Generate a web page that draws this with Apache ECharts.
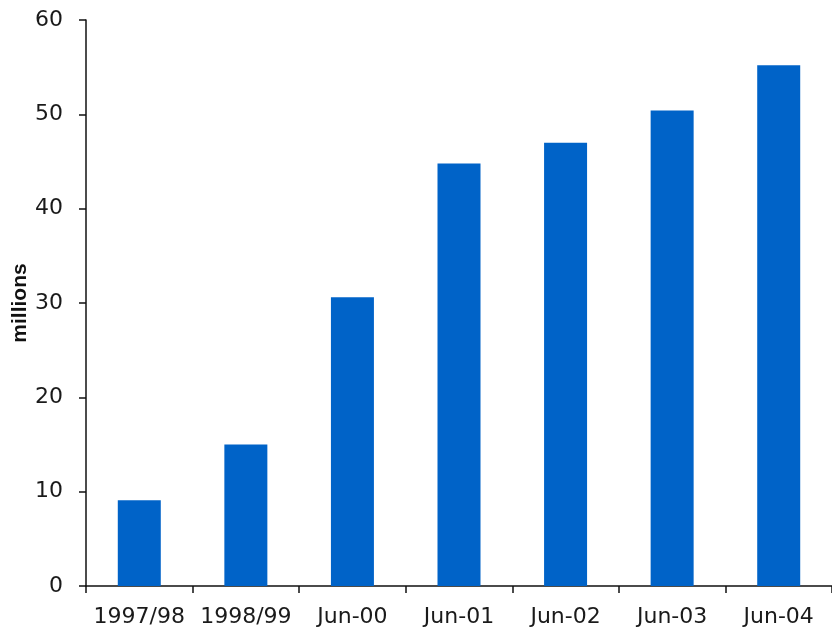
<!DOCTYPE html>
<html>
<head>
<meta charset="utf-8">
<script src="https://cdn.jsdelivr.net/npm/echarts@6/dist/echarts.min.js"></script>
<style>
  html, body { margin: 0; padding: 0; background: #fff; }
  #chart { width: 832px; height: 631px; }
</style>
</head>
<body>
<div id="chart"></div>
<script>
// Period labels along the horizontal axis
const periods = ['1997/98', '1998/99', 'Jun-00', 'Jun-01', 'Jun-02', 'Jun-03', 'Jun-04'];
// Totals in millions for each period
const totals = [9.1, 15.0, 30.6, 44.8, 47.0, 50.4, 55.2];
// Value axis range and step
const yMin = 0;
const yMax = 60;
const yStep = 10;

const chart = echarts.init(document.getElementById('chart'), null, { renderer: 'canvas' });

const axisText = { color: '#1a1a1a', fontFamily: 'DejaVu Sans', fontSize: 22 };

chart.setOption({
  animation: false,
  backgroundColor: '#ffffff',
  grid: { left: 86, top: 20, right: 0, bottom: 45, containLabel: false, outerBoundsMode: 'none' },
  xAxis: {
    type: 'category',
    data: periods,
    boundaryGap: true,
    axisLine: { show: true, lineStyle: { color: '#111', width: 1.5 } },
    axisTick: { show: true, length: 7, inside: false, alignWithLabel: false, lineStyle: { color: '#111', width: 1.5 } },
    axisLabel: Object.assign({ margin: 20, interval: 0, hideOverlap: false }, axisText),
    splitLine: { show: false }
  },
  yAxis: {
    type: 'value',
    min: yMin,
    max: yMax,
    interval: yStep,
    name: 'millions',
    nameLocation: 'middle',
    nameRotate: 90,
    nameGap: 55,
    nameMoveOverlap: false,
    nameTextStyle: { color: '#111', fontFamily: 'Liberation Sans', fontWeight: 'bold', fontSize: 21 },
    axisLine: { show: true, lineStyle: { color: '#111', width: 1.5 } },
    axisTick: { show: true, length: 7, inside: false, lineStyle: { color: '#111', width: 1.5 } },
    axisLabel: Object.assign({ margin: 23 }, axisText),
    splitLine: { show: false }
  },
  series: [{
    type: 'bar',
    data: totals,
    barWidth: 43,
    itemStyle: { color: '#0063C8' }
  }]
});
</script>
</body>
</html>
